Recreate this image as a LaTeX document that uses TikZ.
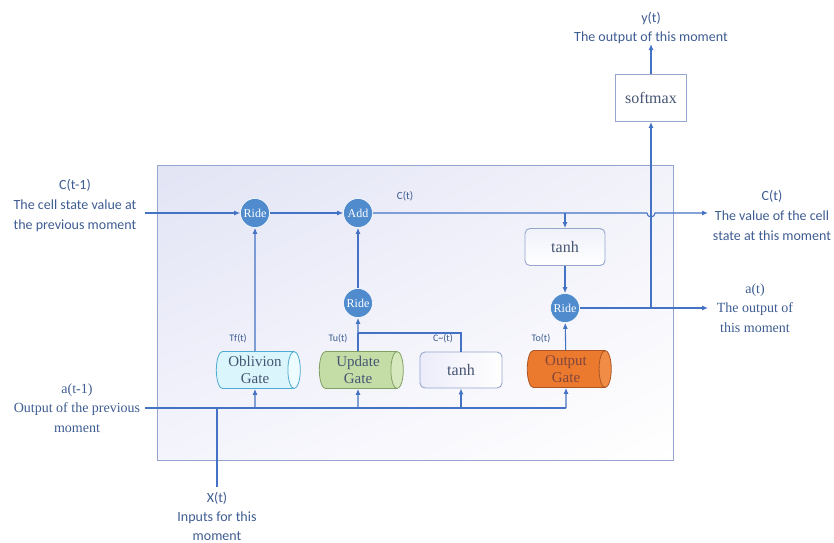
\documentclass[tikz,border=0pt]{standalone}
\usepackage{fontspec}
\setmainfont{Liberation Serif}
\newfontfamily\lblsans{Carlito}
\usetikzlibrary{shapes.geometric,arrows.meta,calc,shadings}
\definecolor{ln}{RGB}{68,114,196}
\definecolor{circ}{RGB}{79,139,205}
\definecolor{lbl}{RGB}{62,92,145}
\definecolor{boxbd}{RGB}{150,165,205}
\definecolor{gtxt}{RGB}{70,85,115}
\definecolor{bgul}{RGB}{226,228,245}
\definecolor{bgur}{RGB}{242,242,250}
\definecolor{bgll}{RGB}{244,244,252}
\definecolor{fgbd}{RGB}{80,170,210}
\definecolor{fgbody}{RGB}{218,246,252}
\definecolor{fgend}{RGB}{236,252,255}
\definecolor{ugbd}{RGB}{130,160,100}
\definecolor{ugbody}{RGB}{196,221,166}
\definecolor{ugend}{RGB}{214,232,190}
\definecolor{ogbd}{RGB}{170,85,35}
\definecolor{ogbody}{RGB}{236,122,46}
\definecolor{ogend}{RGB}{240,140,70}
\definecolor{ogtxt}{RGB}{130,70,60}
\definecolor{tanhl}{RGB}{236,236,250}
\definecolor{tanht}{RGB}{240,242,250}
\tikzset{
  wire/.style={draw=ln, line width=1.1pt},
  arr/.style={wire, -{Latex[length=6pt,width=5pt]}},
  opnode/.style={circle, fill=circ, draw=white, line width=0.6pt, minimum size=29pt, inner sep=0pt, text=white, font=\fontsize{12}{12}\selectfont},
  gatebox/.style={cylinder, shape aspect=0.45, minimum width=37pt, minimum height=84pt, inner sep=0pt, line width=0.8pt, align=center, font=\fontsize{15}{17}\selectfont, text=gtxt, cylinder uses custom fill},
  rbox/.style={rounded corners=5pt, draw=boxbd, line width=0.9pt, align=center, font=\fontsize{16}{16}\selectfont, text=gtxt},
  sanslbl/.style={text=lbl, align=center, font=\lblsans\fontsize{14}{20}\selectfont},
  seriflbl/.style={text=lbl, align=center, font=\fontsize{14}{19.5}\selectfont},
  smalllbl/.style={text=lbl, font=\lblsans\fontsize{10}{12}\selectfont},
}
\begin{document}
\begin{tikzpicture}[x=1pt,y=-1pt]
\useasboundingbox (0,0) rectangle (834,542);
% main box
\shade[upper left=bgul, upper right=bgur, lower left=bgll, lower right=white] (157,165) rectangle (673,460);
\draw[boxbd, line width=1pt] (157,165) rectangle (673,460);

% operation nodes
\node[opnode] (ride1) at (255,213) {Ride};
\node[opnode] (add) at (358,213) {Add};
\node[opnode] (ride2) at (358,303) {Ride};
\node[opnode] (ride3) at (565,308) {Ride};

% gates
\node[gatebox, draw=fgbd, cylinder body fill=fgbody, cylinder end fill=fgend] (fg) at (255,370) {Oblivion\\Gate};
\node[gatebox, draw=ugbd, cylinder body fill=ugbody, cylinder end fill=ugend] (ug) at (358,370) {Update\\Gate};
\node[gatebox, draw=ogbd, cylinder body fill=ogbody, cylinder end fill=ogend, text=ogtxt] (og) at (566,369) {Output\\Gate};
\node[rbox, minimum width=82pt, minimum height=36pt, left color=tanhl, right color=white] (tanh1) at (461,370) {tanh};
\node[rbox, minimum width=80pt, minimum height=37pt, top color=tanht, bottom color=white] (tanh2) at (565,247) {tanh};
\node[draw=boxbd, line width=0.9pt, fill=white, minimum width=71pt, minimum height=47pt, font=\fontsize{16}{16}\selectfont, text=gtxt] (soft) at (651,98) {softmax};

% labels
\node[sanslbl] (lc0) at (75,205) {C(t-1)\\The cell state value at\\the previous moment};
\node[seriflbl] (la0) at (77,408) {a(t-1)\\Output of the previous\\moment};
\node[sanslbl, font=\lblsans\fontsize{14}{19}\selectfont] (lx) at (217,516) {X(t)\\Inputs for this\\moment};
\node[sanslbl] (lc1) at (772,215) {C(t)\\The value of the cell\\state at this moment};
\node[seriflbl] (la1) at (755,308) {a(t)\\The output of\\this moment};
\node[sanslbl, font=\lblsans\fontsize{14}{19}\selectfont] (ly) at (651,28) {y(t)\\The output of this moment};
\node[smalllbl, font=\lblsans\fontsize{11}{12}\selectfont] (lct) at (405,196) {C(t)};
\node[smalllbl] (ltf) at (238,339) {Tf(t)};
\node[smalllbl] (ltu) at (338,339) {Tu(t)};
\node[smalllbl] (lcc) at (443,339) {C{\char"007E}(t)};
\node[smalllbl] (lto) at (541,339) {To(t)};

% coordinates
\coordinate (cin) at (145,213);
\coordinate (ain) at (145,408);
\coordinate (hopA) at (647,213);
\coordinate (cout) at (708,213);
\coordinate (aout) at (708,308);
\coordinate (xin) at (217,487);
\coordinate (yout) at (651,44);
\coordinate (split) at (461,333);
\coordinate (ajoin) at (651,308);

% cell state line
\draw[arr] (cin) -- (ride1);
\draw[arr] (ride1) -- (add);
\draw[arr] (add) -- (hopA) arc (180:0:4) -- (cout);
\draw[arr] (tanh2.north |- add) -- (tanh2);
\draw[arr] (tanh2) -- (ride3);
\draw[arr] (og) -- (ride3);
\draw[arr] (ride3) -- (aout);
\draw[arr] (ajoin) -- (soft);
\draw[arr] (soft) -- (yout);

% gates to ops
\draw[arr] (fg) -- (ride1);
\draw[arr] (ride2) -- (add);
\draw[wire] (ug.north) -- (ug.north |- split);
\draw[wire] (tanh1.north) -- (split) -- (ug.north |- split);
\draw[arr] (ug.north |- split) -- (ride2);

% input line
\draw[wire] (ain) -- (og.south |- ain);
\draw[arr] (og.south |- ain) -- (og);
\draw[arr] (fg.south |- ain) -- (fg);
\draw[arr] (ug.south |- ain) -- (ug);
\draw[arr] (tanh1.south |- ain) -- (tanh1);
\draw[wire] (xin) -- (xin |- ain);
\end{tikzpicture}
\end{document}
